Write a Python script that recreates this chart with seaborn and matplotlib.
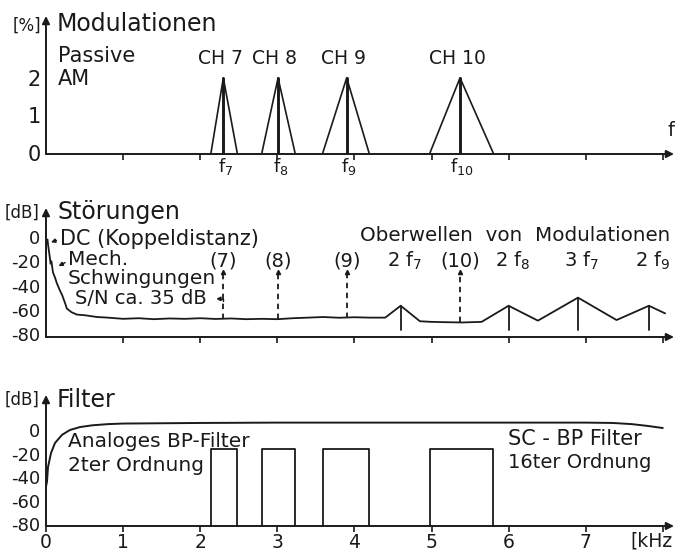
import numpy as np
import pandas as pd
import matplotlib
matplotlib.use("Agg")
import matplotlib.pyplot as plt
import seaborn as sns

# ---- data ----
ch_names = ["CH 7", "CH 8", "CH 9", "CH 10"]
ch_sub = ["7", "8", "9", "10"]
ch_center = [2.30, 3.01, 3.90, 5.37]     # kHz
ch_left = [2.14, 2.80, 3.59, 4.98]
ch_right = [2.48, 3.23, 4.19, 5.80]
ch_peak = [2.0, 2.0, 2.0, 2.0]           # % modulation

# disturbance spectrum (dB)
noise_khz = [0.02, 0.026, 0.05, 0.06, 0.07, 0.09, 0.12, 0.14, 0.18, 0.21, 0.25, 0.27,
             0.33, 0.40, 0.50, 0.66, 0.80, 1.0, 1.2, 1.4, 1.6, 1.8, 2.0, 2.2, 2.4,
             2.6, 2.8, 3.0, 3.2, 3.4, 3.6, 3.8, 4.0, 4.2, 4.4, 4.6, 4.85, 5.0, 5.2,
             5.4, 5.65, 6.0, 6.38, 6.9, 7.4, 7.82, 8.03]
noise_db = [-2, -6, -17, -22, -20, -29, -34, -38, -44, -48, -55, -59,
            -62, -64, -64.5, -66, -66.5, -67.5, -67, -67.8, -67.2, -67.5, -67, -67.6, -67.2,
            -67.8, -67.5, -67.8, -67, -66.5, -66, -66.6, -66.2, -66.5, -66.5, -56.7, -69.5, -70, -70.3,
            -70.5, -70, -56.7, -69, -50, -68.5, -56.7, -63]
harm_labels = ["2 f$_7$", "2 f$_8$", "3 f$_7$", "2 f$_9$"]
harm_khz = [4.60, 6.00, 6.90, 7.82]
harm_db = [-56.7, -56.7, -50, -56.7]
chan_floor_db = [-67.8, -67.8, -66.6, -70.5]

# filter response (dB)
filt_khz = [0.0, 0.013, 0.026, 0.065, 0.117, 0.21, 0.31, 0.44, 0.6, 0.8, 1.0,
            2, 3, 4, 5, 6, 7, 7.35, 7.6, 7.8, 8.0]
filt_db = [-48, -44, -31.5, -19.6, -11, -4, 0, 2.5, 4, 5, 5.5,
           6, 6.3, 6.3, 6.3, 6.3, 6.3, 6, 5, 3.5, 1.7]
sc_top_db = -16

x_ticks = [0, 1, 2, 3, 4, 5, 6, 7, 8]
x_ticklabels = ["0", "1", "2", "3", "4", "5", "6", "7", ""]
mod_yticks = [0, 1, 2]
db_yticks = [0, -20, -40, -60, -80]

sns.set_theme(style="white")
plt.rcParams['font.family'] = ['DejaVu Sans']
plt.rcParams['mathtext.default'] = 'regular'
ink = "#1a1a1a"

W, H = 675, 551
fig = plt.figure(figsize=(W / 100, H / 100), dpi=100)
fig.patch.set_facecolor("white")

x0 = 46 / W
xw = (674 - 46) / W
xmax = (674 - 46) / 77.1


def make_axes(top_px, bottom_px, ylim):
    ax = fig.add_axes([x0, 1 - bottom_px / H, xw, (bottom_px - top_px) / H])
    ax.set_xlim(0, xmax)
    ax.set_ylim(*ylim)
    ax.set_facecolor("none")
    for s in ax.spines.values():
        s.set_visible(False)
    ax.annotate("", xy=(1, 0), xytext=(0, 0), xycoords="axes fraction",
                arrowprops=dict(arrowstyle="-|>", lw=1.4, color=ink, mutation_scale=11,
                                shrinkA=0, shrinkB=0))
    ax.annotate("", xy=(0, 1), xytext=(0, 0), xycoords="axes fraction",
                arrowprops=dict(arrowstyle="-|>", lw=1.4, color=ink, mutation_scale=11,
                                shrinkA=0, shrinkB=0))
    ax.tick_params(axis="x", direction="out", length=4, width=1.2, color=ink,
                   bottom=True, pad=0.8, labelsize=13.5, labelcolor=ink)
    ax.tick_params(axis="y", length=0, pad=4, labelcolor=ink)
    return ax


def line(ax, xs, ys, lw=1.3, **kw):
    sns.lineplot(x=xs, y=ys, ax=ax, color=ink, lw=lw, estimator=None, sort=False, **kw)


# ---------- panel 1 : Modulationen ----------
ax1 = make_axes(16, 154, (-0.03, 3.65))
ax1.set_xticks(x_ticks[1:])
ax1.set_xticklabels([])
ax1.set_yticks(mod_yticks)
ax1.set_yticklabels([str(v) for v in mod_yticks], fontsize=15)
for name, sub, c, l, r, p in zip(ch_names, ch_sub, ch_center, ch_left, ch_right, ch_peak):
    line(ax1, [l, c, r], [0, p, 0], lw=1.2)
    line(ax1, [c, c], [0, p], lw=2.1)
    ax1.text(c - 0.04, 2.51, name, ha="center", va="center", fontsize=13.5, color=ink)
    ax1.text(c + 0.03, -0.37, "f$_{%s}$" % sub, ha="center", va="center",
             fontsize=13, color=ink, clip_on=False)
ax1.text(0.143, 3.44, "Modulationen", fontsize=17, va="center", color=ink)
ax1.text(-0.25, 3.39, "[%]", fontsize=12, ha="center", va="center", color=ink, clip_on=False)
ax1.text(0.156, 2.59, "Passive", fontsize=15, va="center", color=ink)
ax1.text(0.156, 1.97, "AM", fontsize=15, va="center", color=ink)
fig.text(674 / W, 1 - 130 / H, "f", fontsize=14, va="center", ha="right", color=ink)

# ---------- panel 2 : Störungen ----------
ax2 = make_axes(208, 337, (-82.5, 24))
ax2.set_xticks(x_ticks[1:])
ax2.set_xticklabels([])
ax2.set_yticks(db_yticks)
ax2.set_yticklabels([str(v) for v in db_yticks], fontsize=13)
line(ax2, noise_khz, noise_db, lw=1.3)
for hk, hd in zip(harm_khz, harm_db):
    line(ax2, [hk, hk], [hd, -76.7], lw=1.3)
for c, sub, fl in zip(ch_center, ch_sub, chan_floor_db):
    line(ax2, [c, c], [fl, -29], lw=1.3, linestyle=(0, (3, 2.5)))
    ax2.plot([c], [-29], marker="^", ms=3, color=ink)
    ax2.text(c, -19.8, "(%s)" % sub, ha="center", va="center", fontsize=14, color=ink)
for lab, hk in zip(harm_labels, harm_khz):
    ax2.text(hk + 0.05, -19.8, lab, ha="center", va="center", fontsize=14, color=ink)
ax2.text(0.143, 20.6, "Störungen", fontsize=17, va="center", color=ink)
ax2.text(-0.31, 19.8, "[dB]", fontsize=12, ha="center", va="center", color=ink, clip_on=False)
ax2.text(0.18, -1.6, "DC (Koppeldistanz)", fontsize=15, va="center", color=ink)
ax2.annotate("", xy=(0.03, -5), xytext=(0.17, -2),
             arrowprops=dict(arrowstyle="-|>", lw=1, color=ink, mutation_scale=6))
ax2.text(0.285, -18.5, "Mech.", fontsize=14.5, va="center", color=ink)
ax2.annotate("", xy=(0.13, -25), xytext=(0.28, -20),
             arrowprops=dict(arrowstyle="-|>", lw=1, color=ink, mutation_scale=6))
ax2.text(0.285, -34.5, "Schwingungen", fontsize=14.5, va="center", color=ink)
ax2.text(0.376, -51, "S/N ca. 35 dB", fontsize=14, va="center", color=ink)
ax2.annotate("", xy=(2.17, -51), xytext=(2.30, -55),
             arrowprops=dict(arrowstyle="-|>", lw=1, color=ink, mutation_scale=6,
                             connectionstyle="angle,angleA=90,angleB=0,rad=0"))
ax2.text(4.07, 1.65, "Oberwellen  von  Modulationen", fontsize=14.3, va="center",
         color=ink, clip_on=False)

# ---------- panel 3 : Filter ----------
ax3 = make_axes(395, 526, (-81.7, 29.8))
ax3.set_xticks(x_ticks)
ax3.set_xticklabels(x_ticklabels)
ax3.set_yticks(db_yticks)
ax3.set_yticklabels([str(v) for v in db_yticks], fontsize=13)
line(ax3, filt_khz, filt_db, lw=1.4)
for l, r in zip(ch_left, ch_right):
    line(ax3, [l, l, r, r], [-81.7, sc_top_db, sc_top_db, -81.7], lw=1.3)
ax3.text(0.143, 25.5, "Filter", fontsize=17, va="center", color=ink)
ax3.text(-0.31, 25.5, "[dB]", fontsize=12, ha="center", va="center", color=ink, clip_on=False)
ax3.text(0.285, -10.2, "Analoges BP-Filter", fontsize=14.5, va="center", color=ink)
ax3.text(0.285, -29.8, "2ter Ordnung", fontsize=14.5, va="center", color=ink)
ax3.text(5.99, -7.7, "SC - BP Filter", fontsize=15, va="center", color=ink)
ax3.text(5.99, -28, "16ter Ordnung", fontsize=14, va="center", color=ink)
fig.text(630 / W, 1 - 541 / H, "[kHz", fontsize=13.5, va="center", ha="left", color=ink)

fig.savefig("out.png", dpi=100, facecolor="white")
